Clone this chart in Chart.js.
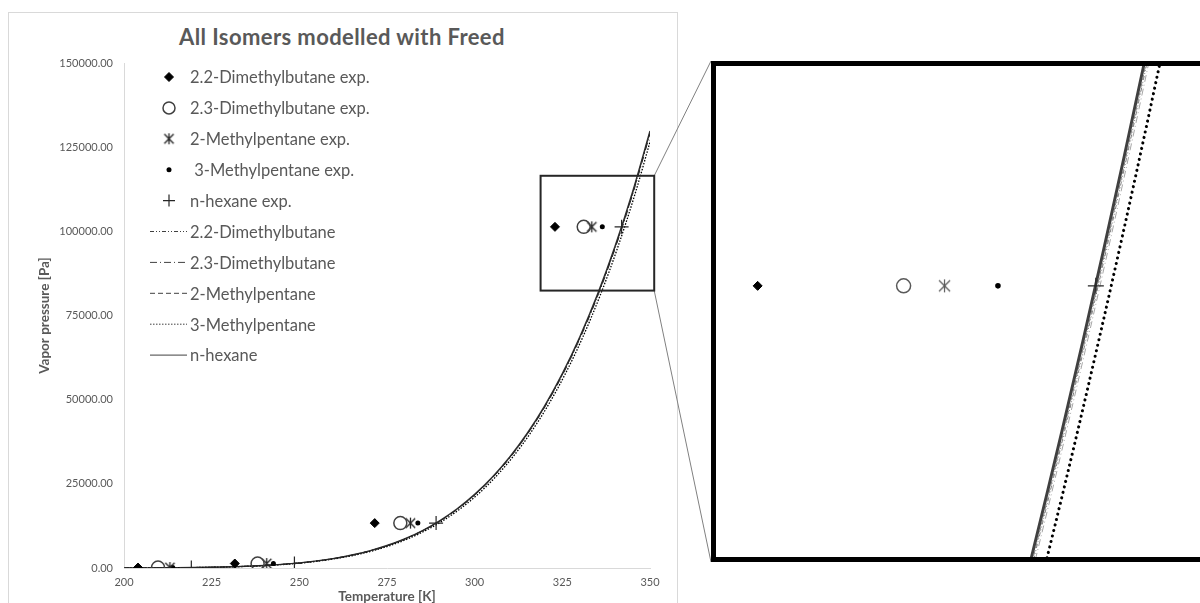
<!DOCTYPE html>
<html>
<head>
<meta charset="utf-8">
<script src="https://cdn.jsdelivr.net/npm/chart.js@4.4.1/dist/chart.umd.min.js"></script>
<style>
html, body { margin: 0; padding: 0; background: #fff; }
body { width: 1200px; height: 603px; overflow: hidden; position: relative; font-family: Lato, sans-serif; }
#frame { position: absolute; left: 8px; top: 12px; width: 670px; height: 700px; border: 1px solid #d9d9d9; box-sizing: border-box; }
#title { position: absolute; left: 0; width: 684px; top: 24px; line-height: 26px; text-align: center; font-weight: bold; font-size: 22px; letter-spacing: 0.4px; color: #595959; }
#mainBox { position: absolute; left: 0; top: 0; width: 720px; height: 603px; }
#inset { position: absolute; left: 711px; top: 61px; width: 510px; height: 501px; border: 5px solid #000; box-sizing: border-box; background: #fff; }
#zoomBox { position: absolute; left: 0; top: 0; width: 500px; height: 491px; }
</style>
</head>
<body>
<div id="frame"></div>
<div id="title">All Isomers modelled with Freed</div>
<div id="mainBox"><canvas id="mainChart"></canvas></div>
<div id="inset"><div id="zoomBox"><canvas id="zoomChart"></canvas></div></div>
<script>
// experimental points: same pressures for every isomer (1, 10, 100, 760 mmHg)
const expPressure = [133.3, 1333.2, 13332, 101325];
const exp22DMB = [204.0, 231.6, 271.5, 322.9];
const exp23DMB = [209.7, 238.1, 278.8, 331.1];
const exp2MP = [213.1, 240.7, 281.7, 333.4];
const exp3MP = [213.9, 242.6, 283.8, 336.4];
const expHexane = [219.2, 248.6, 289.0, 341.9];

// model curves (Freed)
const modelPressure = [18, 32, 55, 91, 145, 227, 346, 517, 754, 1080, 1520, 2103, 2866, 3849, 5101, 6680,
  8641, 11060, 14013, 17585, 21865, 26958, 32984, 40023, 48236, 57728, 68687, 81208, 95472, 111617, 129800];
const modelHexane = [200, 205, 210, 215, 220, 225, 230, 235, 240, 245, 250, 255, 260, 265, 270, 275,
  280, 285, 290, 295, 300, 305, 310, 315, 320, 325, 330, 335, 340, 345, 350];
const model2MP = [200.1, 205.1, 210.1, 215.1, 220.1, 225.1, 230.1, 235.1, 240.1, 245.1, 250.1, 255.1, 260.1, 265.1, 270.1, 275.1,
  280.1, 285.1, 290.1, 295.1, 300.1, 305.1, 310.1, 315.1, 320.1, 325.1, 330.1, 335.1, 340.1, 345.1, 350.1];
const model22DMB = [200.15, 205.15, 210.15, 215.15, 220.15, 225.15, 230.15, 235.15, 240.15, 245.15, 250.15, 255.15, 260.15, 265.15, 270.15, 275.15,
  280.15, 285.15, 290.15, 295.15, 300.15, 305.15, 310.15, 315.15, 320.15, 325.15, 330.15, 335.15, 340.15, 345.15, 350.15];
const model23DMB = [200.25, 205.25, 210.25, 215.25, 220.25, 225.25, 230.25, 235.25, 240.25, 245.25, 250.25, 255.25, 260.25, 265.25, 270.25, 275.25,
  280.25, 285.25, 290.25, 295.25, 300.25, 305.25, 310.25, 315.25, 320.25, 325.25, 330.25, 335.25, 340.25, 345.25, 350.25];
const model3MP = [200.88, 205.88, 210.88, 215.88, 220.88, 225.88, 230.88, 235.88, 240.88, 245.88, 250.88, 255.88, 260.88, 265.88, 270.88, 275.88,
  280.88, 285.88, 290.88, 295.88, 300.88, 305.88, 310.88, 315.88, 320.88, 325.88, 330.88, 335.88, 340.88, 345.88, 350.88];

const labels = ['2.2-Dimethylbutane exp.', '2.3-Dimethylbutane exp.', '2-Methylpentane exp.', ' 3-Methylpentane exp.', 'n-hexane exp.',
  '2.2-Dimethylbutane', '2.3-Dimethylbutane', '2-Methylpentane', '3-Methylpentane', 'n-hexane'];

const xRange = [200, 350], xStep = 25;
const yRange = [0, 150000], yStep = 25000;
// region shown magnified on the right
const zoomT = [318.8, 351.2], zoomP = [82400, 116500];
const insetT = [320.56, 348.65], insetP = [90380, 110200];

function makeAsterisk(size, color, lw) {
  const c = document.createElement('canvas');
  c.width = size; c.height = size;
  const g = c.getContext('2d');
  g.strokeStyle = color; g.lineWidth = lw;
  const m = size / 2, r = size / 2 - 1;
  g.beginPath();
  g.moveTo(m, m - r); g.lineTo(m, m + r);
  g.moveTo(m - r * 0.85, m - r * 0.85); g.lineTo(m + r * 0.85, m + r * 0.85);
  g.moveTo(m - r * 0.85, m + r * 0.85); g.lineTo(m + r * 0.85, m - r * 0.85);
  g.stroke();
  return c;
}

function pts(temps, pres) {
  return temps.map((t, i) => ({ x: t, y: pres[i] }));
}

function buildDatasets(big) {
  const exp = (i, temps, style) => Object.assign({
    label: labels[i], data: pts(temps, expPressure), showLine: false
  }, style);
  const model = (i, temps, style) => Object.assign({
    label: labels[i], data: pts(temps, modelPressure), showLine: true, pointRadius: 0,
    cubicInterpolationMode: 'monotone', fill: false
  }, style);
  return [
    exp(0, exp22DMB, { pointStyle: 'rectRot', pointRadius: 4.5, backgroundColor: '#000', borderColor: '#000', pointBorderWidth: 1 }),
    exp(1, exp23DMB, { pointStyle: 'circle', pointRadius: big ? 7 : 6.5, backgroundColor: 'rgba(0,0,0,0)', borderColor: big ? '#595959' : '#404040', pointBorderWidth: 1.5 }),
    exp(2, exp2MP, { pointStyle: big ? makeAsterisk(15, '#595959', 1.2) : makeAsterisk(13, '#262626', 1.3), pointRadius: 6, borderColor: '#262626' }),
    exp(3, exp3MP, { pointStyle: 'circle', pointRadius: big ? 2.8 : 2.5, backgroundColor: '#000', borderColor: '#000', pointBorderWidth: 0 }),
    exp(4, expHexane, { pointStyle: 'cross', pointRadius: big ? 8 : 7, borderColor: '#262626', pointBorderWidth: 1.2 }),
    model(5, model22DMB, { borderColor: big ? '#7f7f7f' : '#262626', borderWidth: 1, borderDash: [4, 2, 1, 2, 1, 2] }),
    model(6, model23DMB, { borderColor: big ? '#a6a6a6' : '#262626', borderWidth: 1, borderDash: [7, 3, 1, 3] }),
    model(7, model2MP, { borderColor: big ? '#7f7f7f' : '#262626', borderWidth: 1, borderDash: [5, 3] }),
    model(8, model3MP, big ? { borderColor: '#000', borderWidth: 3, borderDash: [0.1, 5.5], borderCapStyle: 'round' }
                           : { borderColor: '#000', borderWidth: 1.3, borderDash: [1.5, 1.5] }),
    model(9, modelHexane, { borderColor: big ? '#404040' : '#333', borderWidth: big ? 3 : 1.4 })
  ];
}

const legendPlugin = {
  id: 'innerLegend',
  afterDatasetsDraw(chart) {
    const ctx = chart.ctx;
    ctx.save();
    ctx.font = '16.5px Lato';
    ctx.textBaseline = 'middle';
    chart.data.datasets.forEach((ds, i) => {
      const y = 77 + i * 30.9;
      if (ds.showLine) {
        ctx.strokeStyle = '#404040';
        ctx.lineWidth = 1;
        ctx.setLineDash(ds.borderDash || []);
        ctx.beginPath();
        ctx.moveTo(150, y); ctx.lineTo(187, y);
        ctx.stroke();
        ctx.setLineDash([]);
      } else {
        ctx.fillStyle = ds.backgroundColor || 'rgba(0,0,0,0)';
        ctx.strokeStyle = ds.borderColor;
        ctx.lineWidth = ds.pointBorderWidth || 1;
        Chart.helpers.drawPoint(ctx, {
          pointStyle: ds.pointStyle, radius: Math.min(ds.pointRadius, 6),
          borderWidth: ds.pointBorderWidth || 0, rotation: 0
        }, 169, y);
      }
      ctx.fillStyle = '#595959';
      ctx.fillText(ds.label, 190, y + 1);
    });
    ctx.restore();
  }
};

const zoomFramePlugin = {
  id: 'zoomFrame',
  afterDraw(chart) {
    const { ctx, scales: { x, y } } = chart;
    const l = x.getPixelForValue(zoomT[0]), r = x.getPixelForValue(zoomT[1]);
    const t = y.getPixelForValue(zoomP[1]), b = y.getPixelForValue(zoomP[0]);
    const inset = document.getElementById('inset');
    ctx.save();
    ctx.strokeStyle = '#808080';
    ctx.lineWidth = 1;
    ctx.beginPath();
    ctx.moveTo(r, t); ctx.lineTo(inset.offsetLeft, inset.offsetTop);
    ctx.moveTo(r, b); ctx.lineTo(inset.offsetLeft, inset.offsetTop + inset.offsetHeight);
    ctx.stroke();
    ctx.strokeStyle = '#262626';
    ctx.lineWidth = 2;
    ctx.strokeRect(l, t, r - l, b - t);
    ctx.restore();
  }
};

const tickFont = { family: 'Lato', size: 11 };
const titleFont = { family: 'Lato', size: 13.5, weight: 'bold', lineHeight: 1 };

new Chart(document.getElementById('mainChart'), {
  type: 'scatter',
  data: { datasets: buildDatasets(false) },
  options: {
    responsive: true,
    maintainAspectRatio: false,
    animation: false,
    layout: { padding: { left: 8, top: 63, right: 70, bottom: 0 } },
    plugins: { legend: { display: false }, tooltip: { enabled: false } },
    scales: {
      x: {
        type: 'linear', min: xRange[0], max: xRange[1],
        grid: { display: false },
        border: { display: true, color: '#d9d9d9', width: 1 },
        ticks: { stepSize: xStep, color: '#595959', font: tickFont, padding: 0 },
        title: { display: true, text: 'Temperature [K]', color: '#595959', font: titleFont, padding: { top: 0, bottom: 0 } },
        afterFit(scale) { scale.height = 35; }
      },
      y: {
        type: 'linear', min: yRange[0], max: yRange[1],
        grid: { display: false },
        border: { display: true, color: '#d9d9d9', width: 1 },
        ticks: { stepSize: yStep, color: '#595959', font: tickFont, padding: 3, callback: v => v.toFixed(2) },
        title: { display: true, text: 'Vapor pressure [Pa]', color: '#595959', font: titleFont, padding: { top: 30, bottom: 0 } },
        afterFit(scale) { scale.width = 116; }
      }
    }
  },
  plugins: [legendPlugin, zoomFramePlugin]
});

new Chart(document.getElementById('zoomChart'), {
  type: 'scatter',
  data: { datasets: buildDatasets(true) },
  options: {
    responsive: true,
    maintainAspectRatio: false,
    animation: false,
    layout: { padding: 0, autoPadding: false },
    plugins: { legend: { display: false }, tooltip: { enabled: false } },
    scales: {
      x: { type: 'linear', display: false, min: insetT[0], max: insetT[1] },
      y: { type: 'linear', display: false, min: insetP[0], max: insetP[1] }
    }
  }
});
</script>
</body>
</html>
